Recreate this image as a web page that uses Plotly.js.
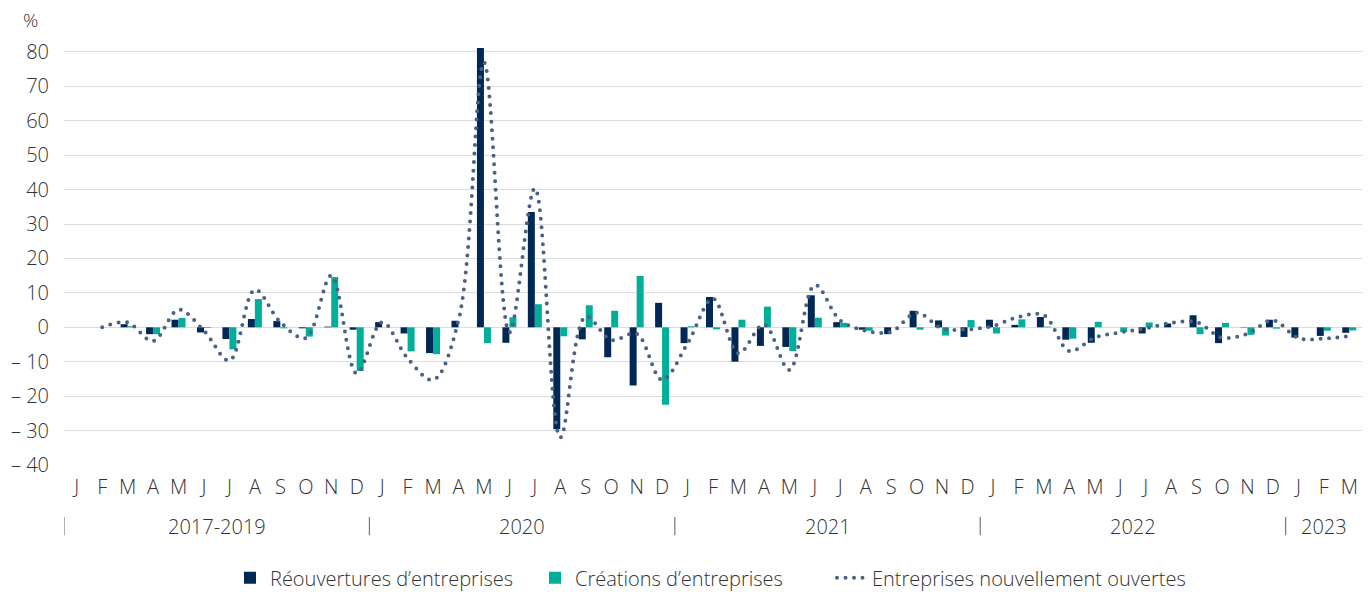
<!DOCTYPE html>
<html><head><meta charset="utf-8">
<script src="https://cdn.plot.ly/plotly-3.0.1.min.js"></script>
<style>
html,body{margin:0;padding:0;background:#fff}
#chart{width:1369px;height:592px}
.scatterlayer .js-line, .legendlines path { stroke-linecap: round !important; }
</style>
</head><body><div id="chart"></div><script>
const monthLetters = ['J','F','M','A','M','J','J','A','S','O','N','D'];
const yearGroups = ['2017-2019','2020','2021','2022','2023'];
const groupLengths = [12,12,12,12,3];

const reouvertures = [
  0, 0, 0.9, -2, 2.2, -1.5, -3.4, 2.4, 1.8, -0.3, 0.2, -0.7,
  1.5, -1.8, -7.5, 1.9, 81.1, -4.5, 33.5, -29.6, -3.5, -8.7, -16.9, 7.1,
  -4.6, 8.8, -10, -5.4, -5.7, 9.3, 1.5, -0.7, -2, 4.8, 2.0, -2.8,
  2.2, 0.7, 3.0, -3.6, -4.5, 0, -1.8, 1.1, 3.5, -4.6, 0.1, 2.2,
  -3.0, -2.5, -1.6
];
const creations = [
  0, 0, 0.3, -2, 2.7, -0.2, -6.4, 8.2, -0.3, -2.7, 14.6, -12.7,
  0, -7, -7.8, 0, -4.6, 2.9, 6.7, -2.6, 6.4, 4.8, 14.9, -22.5,
  0.3, -0.6, 2.2, 6.0, -6.9, 2.8, 1.3, -1.0, 0, -0.7, -2.4, 2.1,
  -1.8, 2.3, 0.2, -3.3, 1.6, -1.4, 1.4, 0, -2, 1.3, -2.2, -0.4,
  0, -1.0, -0.9
];
const nouvelles = [
  null, 0, 1.4, -4, 5.1, -1, -9.7, 10.9, 1.5, -3.1, 15, -13.4,
  1.5, -9, -15.3, 2, 77, -1.5, 40.4, -32, 3.1, -3.7, -1.9, -15.3,
  -4.7, 8.3, -7.6, 0.8, -12.4, 12.3, 2, -1, -1.3, 4.2, -0.3, -0.6,
  0.4, 3, 3.5, -6.9, -3, -1.5, -0.3, 1.3, 1.5, -3, -1.9, 2.0,
  -3.1, -3.3, -2.5
];
const yTicks = [-40,-30,-20,-10,0,10,20,30,40,50,60,70,80];

// build category axis
const tickText = [];
groupLengths.forEach(n => { for (let i = 0; i < n; i++) tickText.push(monthLetters[i]); });
const N = tickText.length;
const xIdx = tickText.map((_, i) => i);
const boundaries = [];
for (let i = 0; i <= N; i++) boundaries.push(i - 0.5);

const yMin = -40, yMax = 82;
const zeroFrac = (0 - yMin) / (yMax - yMin);

const FAM = '"Open Sans", sans-serif';
const font = {family: FAM, size: 20, color: '#333333', weight: 300};
const legFont = {family: FAM, size: 20, color: '#333333', weight: 300};

const annotations = [];
const shapes = [];
let start = 0;
groupLengths.forEach((n, g) => {
  annotations.push({xref:'x', yref:'paper', x: start - 0.5 + n/2, y: -0.1476, yanchor:'middle',
    text: yearGroups[g], showarrow:false, font: {family: FAM, size: 20, color: '#333333', weight: 300}});
  shapes.push({type:'line', xref:'x', yref:'paper', x0: start - 0.5, x1: start - 0.5,
    y0: -0.124, y1: -0.167, line:{color:'#777777', width:1.2}});
  start += n;
});
annotations.push({xref:'paper', yref:'paper', x: -0.026, y: 1.06, xanchor:'center', yanchor:'middle',
  text:'%', showarrow:false, font: {family: FAM, size: 19, color: '#333333', weight: 300}});

const traces = [
  {type:'bar', x: xIdx, y: reouvertures, name:'Réouvertures d’entreprises', legend:'legend',
   marker:{color:'#002855'}},
  {type:'bar', x: xIdx, y: creations, name:'Créations d’entreprises', legend:'legend2',
   marker:{color:'#00AE9A'}},
  {type:'scatter', mode:'lines', x: xIdx, y: nouvelles, name:'Entreprises nouvellement ouvertes', legend:'legend3',
   line:{color:'#4B6286', width:4, dash:'0px,8.5px', shape:'spline', smoothing:1},
   connectgaps:false}
];

function leg(px) {
  return {orientation:'h', xref:'container', yref:'container', x: px/1369, xanchor:'left',
    y:0.024, yanchor:'middle', font: legFont, bgcolor:'rgba(0,0,0,0)'};
}

const layout = {
  width:1369, height:592,
  margin:{l:64, r:7, t:45, b:127, autoexpand:false},
  paper_bgcolor:'#ffffff', plot_bgcolor:'#ffffff',
  font: font,
  barmode:'group', bargap:0.45, bargroupgap:0,
  showlegend:true,
  legend: leg(230),
  legend2: leg(535),
  legend3: leg(832),
  xaxis:{type:'linear', range:[-0.5, N-0.5], tickmode:'array', tickvals:xIdx, ticktext:tickText,
    showgrid:false, zeroline:false, showline:false, ticks:'', ticklabelstandoff:8,
    tickfont:font, fixedrange:true},
  xaxis2:{overlaying:'x', anchor:'free', position: zeroFrac, side:'bottom', type:'linear',
    range:[-0.5, N-0.5], tickmode:'array', tickvals:boundaries, showticklabels:false,
    ticks:'outside', ticklen:6, tickwidth:1, tickcolor:'#000000',
    showline:true, linecolor:'#000000', linewidth:1, showgrid:false, zeroline:false},
  yaxis:{range:[yMin, yMax], tickmode:'array', tickvals:yTicks,
    ticktext: yTicks.map(v => v < 0 ? '– ' + Math.abs(v) : String(v)),
    showgrid:true, gridcolor:'#dcdcdc', gridwidth:1, zeroline:false, showline:false,
    ticks:'', ticklabelstandoff:14, tickfont:font},
  annotations: annotations,
  shapes: shapes
};

Plotly.newPlot('chart', traces, layout, {displayModeBar:false, staticPlot:true});
</script></body></html>
